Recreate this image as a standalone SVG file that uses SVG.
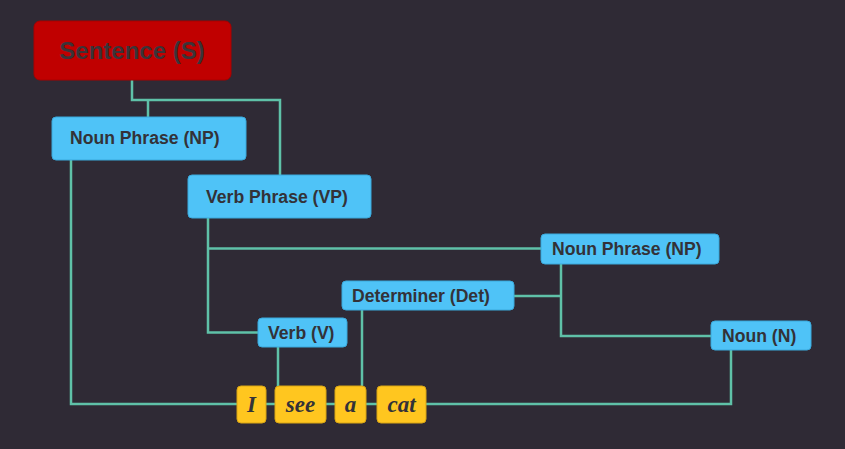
<svg xmlns="http://www.w3.org/2000/svg" width="845" height="449" viewBox="0 0 845 449">
<style>
.bg{fill:#2f2a35}
.phrase{fill:#4fc3f7;stroke:#3aa9dc;stroke-width:1}
.root{fill:#c00000;stroke:#a80000;stroke-width:1}
.word{fill:#ffc61f;stroke:#d9a514;stroke-width:1}
.lbl{font-family:"Liberation Sans",Arial,sans-serif;font-weight:bold;font-size:17.6px;fill:#333238}
.rootlbl{font-family:"Liberation Sans",Arial,sans-serif;font-weight:bold;font-size:24px;fill:#3a3438;text-anchor:middle}
.wlbl{font-family:"Liberation Serif","Times New Roman",serif;font-weight:bold;font-style:italic;font-size:23px;fill:#333238;text-anchor:middle}
.edge{fill:none;stroke:#5fc1a8;stroke-width:2.5}
</style>
<rect class="bg" x="0" y="0" width="845" height="449"/>
<g id="connectors">
<polyline class="edge" points="132,80 132,100 280,100 280,175"/>
<polyline class="edge" points="148,100 148,117"/>
<polyline class="edge" points="71,160 71,404 237,404"/>
<polyline class="edge" points="208,218 208,332.5 258,332.5"/>
<polyline class="edge" points="208,248.5 541,248.5"/>
<polyline class="edge" points="561,264 561,336 711,336"/>
<polyline class="edge" points="514,296 561,296"/>
<polyline class="edge" points="278,347 278,386"/>
<polyline class="edge" points="362,310 362,386"/>
<polyline class="edge" points="731,350 731,404 425,404"/>
<polyline class="edge" points="266,404 275,404"/>
<polyline class="edge" points="326,404 335,404"/>
<polyline class="edge" points="366,404 377,404"/>
</g>
<g id="node-s"><rect class="root" x="34" y="21" width="197" height="59" rx="6"/><text class="rootlbl" x="132" y="58.5">Sentence (S)</text></g>
<g id="node-np1"><rect class="phrase" x="52" y="117" width="194" height="43" rx="4"/><text class="lbl" x="70" y="144">Noun Phrase (NP)</text></g>
<g id="node-vp"><rect class="phrase" x="188" y="175" width="183" height="43" rx="4"/><text class="lbl" x="206" y="203">Verb Phrase (VP)</text></g>
<g id="node-np2"><rect class="phrase" x="541" y="234" width="178" height="30" rx="4"/><text class="lbl" x="552" y="255">Noun Phrase (NP)</text></g>
<g id="node-det"><rect class="phrase" x="342" y="281" width="172" height="29" rx="4"/><text class="lbl" x="352" y="302">Determiner (Det)</text></g>
<g id="node-v"><rect class="phrase" x="258" y="318" width="89" height="29" rx="4"/><text class="lbl" x="268" y="339">Verb (V)</text></g>
<g id="node-n"><rect class="phrase" x="711" y="321" width="100" height="29" rx="4"/><text class="lbl" x="722" y="342">Noun (N)</text></g>
<g id="word-i"><rect class="word" x="237" y="386" width="29" height="37" rx="4"/><text class="wlbl" x="251.5" y="412">I</text></g>
<g id="word-see"><rect class="word" x="275" y="386" width="51" height="37" rx="4"/><text class="wlbl" x="300.5" y="412">see</text></g>
<g id="word-a"><rect class="word" x="335" y="386" width="31" height="37" rx="4"/><text class="wlbl" x="350.5" y="412">a</text></g>
<g id="word-cat"><rect class="word" x="377" y="386" width="49" height="37" rx="4"/><text class="wlbl" x="401.5" y="412">cat</text></g>
</svg>
